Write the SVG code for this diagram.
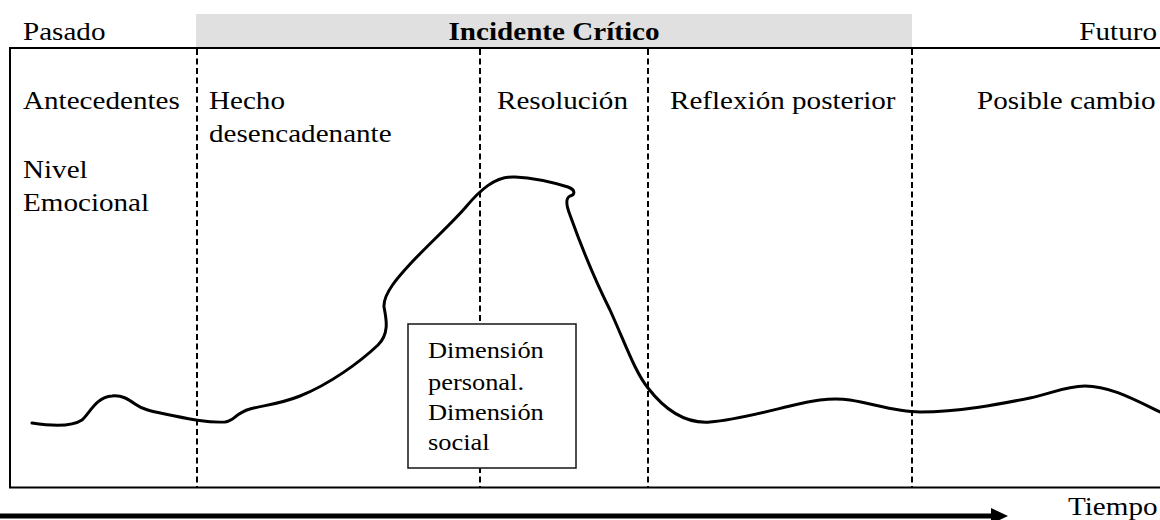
<svg xmlns="http://www.w3.org/2000/svg" width="1160" height="520" viewBox="0 0 1160 520">
<style>
  text { font-family: "Liberation Serif", "Times New Roman", serif; fill: #000; }
  .t { font-size: 26px; }
  .b { font-size: 26px; font-weight: bold; }
  .s { font-size: 24px; }
  .dash { stroke: #000; stroke-width: 2; stroke-dasharray: 6 3.5; fill: none; }
  .frame { stroke: #000; stroke-width: 2; fill: none; }
  .curve { stroke: #000; stroke-width: 3; fill: none; stroke-linecap: round; stroke-linejoin: round; }
</style>
<rect width="1160" height="520" fill="#fff"/>

<g id="header">
  <rect x="196" y="14" width="716" height="33" fill="#e0e0e0"/>
  <text class="t" transform="matrix(1.12 0 0 1 23 40)">Pasado</text>
  <text class="b" text-anchor="middle" transform="matrix(1.12 0 0 1 554 40)">Incidente Crítico</text>
  <text class="t" text-anchor="end" transform="matrix(1.12 0 0 1 1157 40)">Futuro</text>
</g>

<g id="frame">
  <path class="frame" d="M1162,48 H10 V487.5 H1162"/>
</g>

<g id="dividers">
  <line class="dash" x1="197" y1="49" x2="197" y2="487"/>
  <line class="dash" x1="480" y1="49" x2="480" y2="487"/>
  <line class="dash" x1="648" y1="49" x2="648" y2="487"/>
  <line class="dash" x1="912" y1="49" x2="912" y2="487"/>
</g>

<g id="phases">
  <text class="t" transform="matrix(1.12 0 0 1 23 109)">Antecedentes</text>
  <text class="t" transform="matrix(1.12 0 0 1 209 109)">Hecho</text>
  <text class="t" transform="matrix(1.12 0 0 1 209 142)">desencadenante</text>
  <text class="t" transform="matrix(1.12 0 0 1 497 109)">Resolución</text>
  <text class="t" transform="matrix(1.12 0 0 1 670 109)">Reflexión posterior</text>
  <text class="t" transform="matrix(1.12 0 0 1 977 109)">Posible cambio</text>
</g>

<g id="nivel-emocional">
  <text class="t" transform="matrix(1.12 0 0 1 23 178)">Nivel</text>
  <text class="t" transform="matrix(1.12 0 0 1 23 211)">Emocional</text>
</g>

<g id="emotion-curve">
  <path class="curve" d="M32,423 C45,425 70,428 82,420 C90,413 96,397 112,396 C122,395 128,399 135,404 C142,409 150,411 165,414 C185,418 205,423 225,422 C235,421 235,413 250,409 C265,405 280,404 300,396 C330,384 360,362 378,345 C390,333 386,318 384,307 C383,293 400,275 412,262 C430,243 450,225 465,208 C480,190 495,176 515,177 C535,178 555,183 568,187 C576,190 575,195 570,196 C566,198 566,205 570,215 C580,243 595,280 610,310 C625,343 635,372 648,388 C665,410 685,424 710,422 C735,420 765,412 790,406 C810,401 830,397 850,400 C875,404 895,412 920,412 C960,412 1000,404 1030,398 C1050,394 1065,386 1085,386 C1110,386 1135,400 1160,412"/>
</g>

<g id="dimension-box">
  <rect x="408" y="324" width="168" height="144" fill="#fff" stroke="#222" stroke-width="1.6"/>
  <text class="s" transform="matrix(1.1 0 0 1 428 358)">Dimensión</text>
  <text class="s" transform="matrix(1.1 0 0 1 428 390)">personal.</text>
  <text class="s" transform="matrix(1.1 0 0 1 428 420)">Dimensión</text>
  <text class="s" transform="matrix(1.1 0 0 1 428 450)">social</text>
</g>

<g id="time-axis">
  <line x1="0" y1="516" x2="993" y2="516" stroke="#000" stroke-width="5"/>
  <polygon points="991,508 1008,516 991,524" fill="#000"/>
  <text class="t" transform="matrix(1.12 0 0 1 1068 515)">Tiempo</text>
</g>
</svg>
